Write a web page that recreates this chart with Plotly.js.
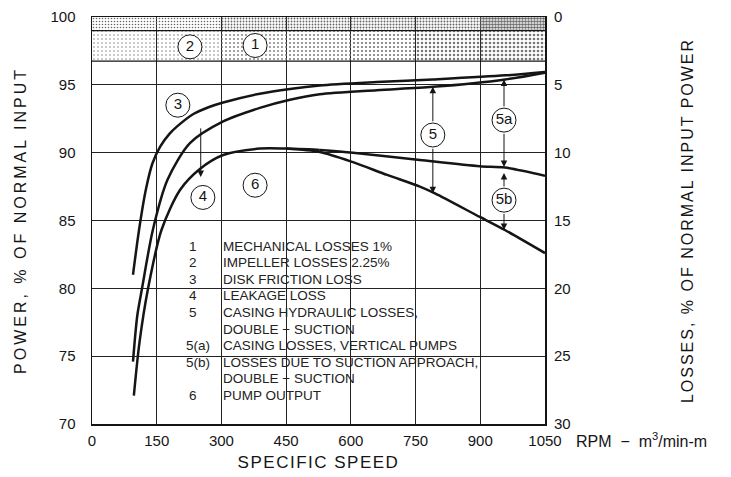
<!DOCTYPE html>
<html><head><meta charset="utf-8">
<script src="https://cdn.plot.ly/plotly-3.0.1.min.js"></script>
<style>
html,body{margin:0;padding:0;background:#fff}
#chart{width:731px;height:477px}
.ytitle{letter-spacing:3px}
.y2title{letter-spacing:2px}
.xtitle{letter-spacing:1.5px}
</style></head><body><div id="chart"></div>
<script>
// ---- data ----
const xTicks = [0, 150, 300, 450, 600, 750, 900, 1050];
const powerTicks = [70, 75, 80, 85, 90, 95, 100];
const lossTicks = [0, 5, 10, 15, 20, 25, 30];
const mechanicalLoss = 1;      // %
const impellerLoss = 2.25;     // %

// curve 3 : upper boundary (disk friction)
const speed3 = [95, 109, 125, 140, 158, 180, 196, 235, 270, 304, 389, 459, 528, 660, 790, 958, 1050];
const power3 = [81.0, 84.3, 87.3, 89.2, 90.45, 91.4, 91.9, 92.85, 93.35, 93.7, 94.35, 94.7, 94.95, 95.2, 95.4, 95.7, 95.95];
// curve 4 : leakage boundary
const speed4 = [95, 105, 116, 141, 175, 227, 304, 389, 459, 528, 660, 790, 958, 1050];
const power4 = [74.6, 78.0, 80.0, 84.3, 88.0, 90.7, 92.3, 93.3, 93.9, 94.3, 94.6, 94.85, 95.4, 95.9];
// curve 6 : pump output (common part)
const speed6 = [97, 110, 130, 161, 204, 250, 304, 389, 450, 528];
const power6 = [72.1, 76.0, 80.0, 84.3, 87.25, 88.8, 89.83, 90.3, 90.3, 90.2];
// branch 5a/5b boundary (vertical pumps)
const speed5a = [528, 605, 760, 899, 957, 1050];
const power5a = [90.2, 90.0, 89.46, 89.0, 88.9, 88.3];
// pump output, double suction
const speed5b = [450, 528, 605, 684, 760, 795, 899, 957, 1050];
const power5b = [90.3, 90.05, 89.3, 88.36, 87.5, 87.0, 85.26, 84.3, 82.6];

// circled labels
const labelText = ['1', '2', '3', '4', '6', '5', '5a', '5b'];
const labelX = [378, 227, 199, 257, 378, 790, 955, 955];
const labelY = [97.9, 97.8, 93.5, 86.7, 87.6, 91.3, 92.4, 86.5];

// arrows (speed, from power, to power)
const arrowX = [252, 790, 790, 955, 955, 955, 955];
const arrowFrom = [91.9, 92.2, 90.4, 93.3, 91.5, 87.4, 85.6];
const arrowTo = [88.2, 94.85, 87.0, 95.4, 88.95, 88.5, 84.3];

// key text
const keyNum = ['1', '2', '3', '4', '5', '', '5(a)', '5(b)', '', '6'];
const keyText = ['MECHANICAL LOSSES 1%', 'IMPELLER LOSSES 2.25%', 'DISK FRICTION LOSS', 'LEAKAGE LOSS',
  'CASING HYDRAULIC LOSSES,', 'DOUBLE \u2212 SUCTION', 'CASING LOSSES, VERTICAL PUMPS',
  'LOSSES DUE TO SUCTION APPROACH,', 'DOUBLE \u2212 SUCTION', 'PUMP OUTPUT'];

// ---- styling ----
const FONT = 'Liberation Sans, Arial, sans-serif';
const INK = '#151515';
const lowerBandDots = [0.10, 0.12, 0.16, 0.2, 0.24, 0.3, 0.34];
const upperBandDots = [0.22, 0.24, 0.28, 0.3, 0.34, 0.36, 0.6];

// ---- drawing ----
const top1 = 100 - mechanicalLoss;
const top2 = top1 - impellerLoss;
const traces = [];
for (let i = 0; i < xTicks.length - 1; i++) {
  const a = xTicks[i], b = xTicks[i + 1];
  traces.push({x: [a, b, b, a, a], y: [top2, top2, top1, top1, top2], mode: 'lines', fill: 'toself',
    line: {width: 0}, fillcolor: 'rgba(0,0,0,0)',
    fillpattern: {shape: '.', size: 4, solidity: lowerBandDots[i], fgcolor: '#777', bgcolor: 'rgba(0,0,0,0)'},
    hoverinfo: 'skip'});
  traces.push({x: [a, b, b, a, a], y: [top1, top1, 100, 100, top1], mode: 'lines', fill: 'toself',
    line: {width: 0}, fillcolor: 'rgba(0,0,0,0)',
    fillpattern: {shape: '.', size: 3, solidity: upperBandDots[i], fgcolor: '#666', bgcolor: 'rgba(0,0,0,0)'},
    hoverinfo: 'skip'});
}
traces.push({x: [xTicks[0], xTicks[xTicks.length - 1]], y: [top1, top1], mode: 'lines', line: {color: INK, width: 1.3}, hoverinfo: 'skip'});
traces.push({x: [xTicks[0], xTicks[xTicks.length - 1]], y: [top2, top2], mode: 'lines', line: {color: INK, width: 1.3}, hoverinfo: 'skip'});

const curveStyle = {color: INK, width: 2.5, shape: 'spline', smoothing: 0.8};
[[speed3, power3], [speed4, power4], [speed6, power6], [speed5a, power5a], [speed5b, power5b]].forEach(c => {
  traces.push({x: c[0], y: c[1], mode: 'lines', line: curveStyle, hoverinfo: 'skip'});
});
traces.push({
  x: labelX, y: labelY, text: labelText, mode: 'markers+text', textposition: 'middle center',
  textfont: {family: FONT, size: 15, color: INK},
  marker: {symbol: 'circle', size: 24, color: 'white', line: {color: INK, width: 1}},
  hoverinfo: 'skip'
});
// invisible trace to carry the right (loss) axis
traces.push({x: [xTicks[0], xTicks[1]], y: [0, 0], yaxis: 'y2', mode: 'lines', line: {width: 0}, opacity: 0, hoverinfo: 'skip'});

const annotations = [];
arrowX.forEach((xv, i) => {
  annotations.push({x: xv, y: arrowTo[i], ax: xv, ay: arrowFrom[i], xref: 'x', yref: 'y', axref: 'x', ayref: 'y',
    text: '', showarrow: true, arrowhead: 2, arrowsize: 1.3, arrowwidth: 1, arrowcolor: INK, standoff: 0, startstandoff: 0});
});
const keyTop = (424 - 246) / 407, keyStep = 16.6 / 407;
keyText.forEach((t, i) => {
  const yy = keyTop - i * keyStep;
  if (keyNum[i]) annotations.push({xref: 'paper', yref: 'paper', x: keyNum[i].length > 1 ? 0.203 : 0.21, y: yy,
    xanchor: 'left', yanchor: 'middle', text: keyNum[i], showarrow: false, font: {family: FONT, size: 13.5, color: '#222'}});
  annotations.push({xref: 'paper', yref: 'paper', x: 0.285, y: yy, xanchor: 'left', yanchor: 'middle', text: t,
    showarrow: false, font: {family: FONT, size: 13.5, color: '#222'}});
});
annotations.push({xref: 'paper', yref: 'paper', x: 1.064, y: -0.04, xanchor: 'left', yanchor: 'middle',
  text: 'RPM  \u2212  m<sup>3</sup>/min-m', showarrow: false, font: {family: FONT, size: 16, color: INK}});

const axisBase = {showgrid: true, gridcolor: '#222', gridwidth: 1, zeroline: false, showline: true,
  linecolor: INK, linewidth: 1.5, mirror: true, ticks: '', tickfont: {family: FONT, size: 15, color: INK}};

const layout = {
  width: 731, height: 477,
  margin: {l: 92, r: 186, t: 17, b: 53},
  paper_bgcolor: '#fff', plot_bgcolor: '#fff',
  font: {family: FONT, size: 15, color: INK},
  showlegend: false,
  xaxis: Object.assign({}, axisBase, {range: [0, 1050], tickvals: xTicks, ticklabelstandoff: 2,
    title: {text: 'SPECIFIC SPEED', font: {family: FONT, size: 17, color: INK}, standoff: 8}}),
  yaxis: Object.assign({}, axisBase, {range: [70, 100], tickvals: powerTicks, ticklabelstandoff: 12,
    title: {text: 'POWER, % OF NORMAL INPUT', font: {family: FONT, size: 16, color: INK}, standoff: 20}}),
  yaxis2: {overlaying: 'y', side: 'right', range: [30, 0], tickvals: lossTicks, showgrid: false, zeroline: false,
    showline: false, ticks: '', ticklabelstandoff: 8, tickfont: {family: FONT, size: 15, color: INK},
    title: {text: 'LOSSES, % OF NORMAL INPUT POWER', font: {family: FONT, size: 16, color: INK}, standoff: 112}},
  shapes: [{type: 'rect', xref: 'paper', yref: 'paper', x0: 0.194, x1: 0.89, y0: 0.037, y1: 0.462,
    fillcolor: '#fff', line: {width: 0}, layer: 'between'}],
  annotations: annotations
};
Plotly.newPlot('chart', traces, layout, {displayModeBar: false, staticPlot: true});
</script></body></html>
